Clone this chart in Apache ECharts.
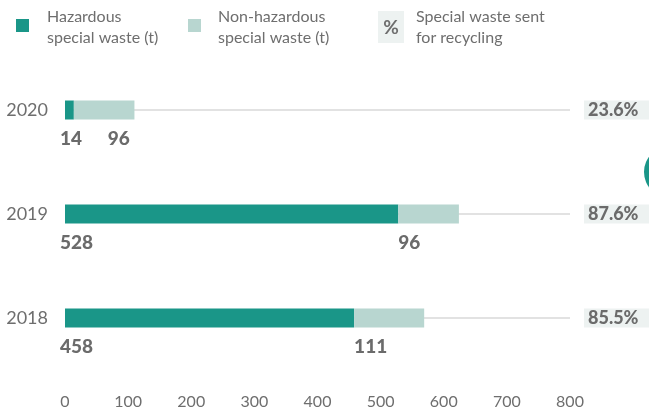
<!DOCTYPE html>
<html>
<head>
<meta charset="utf-8">
<script src="https://cdn.jsdelivr.net/npm/echarts@6/dist/echarts.min.js"></script>
<style>
html,body{margin:0;padding:0;background:#fff;}
#main{width:649px;height:411px;}
</style>
</head>
<body>
<div id="main"></div>
<script>
var years = ['2018', '2019', '2020'];
var hazardous = [458, 528, 14];
var nonHazardous = [111, 96, 96];
var recyclingPct = ['85.5%', '87.6%', '23.6%'];
var xTicks = [0, 100, 200, 300, 400, 500, 600, 700, 800];
var legendNames = ['Hazardous\nspecial waste (t)', 'Non-hazardous\nspecial waste (t)', 'Special waste sent\nfor recycling'];

var TEAL = '#1a9688', LIGHT = '#b8d6d0', GREY = '#6e6e6e', FONT = 'Lato, "Open Sans", sans-serif';

var chart = echarts.init(document.getElementById('main'));

var valLabel = {
  show: true, align: 'left', verticalAlign: 'top',
  fontFamily: FONT, fontWeight: 900, fontSize: 19, color: '#6b6b6b'
};

var option = {
  animation: false,
  grid: { left: 65, right: 79, top: 58, bottom: 41, outerBoundsMode: 'none', containLabel: false },
  xAxis: {
    type: 'value', min: xTicks[0], max: xTicks[xTicks.length - 1], interval: 100,
    axisLine: { show: false }, axisTick: { show: false }, splitLine: { show: false },
    axisLabel: { color: GREY, fontFamily: FONT, fontSize: 16, margin: 24 }
  },
  yAxis: [{
    type: 'category', data: years,
    axisLine: { show: false }, axisTick: { show: false },
    axisLabel: { color: GREY, fontFamily: FONT, fontSize: 18, margin: 17 }
  }, {
    type: 'category', data: recyclingPct, position: 'right',
    axisLine: { show: false }, axisTick: { show: false },
    axisLabel: {
      color: '#6b6b6b', fontFamily: FONT, fontSize: 18, fontWeight: 900,
      margin: 14, align: 'left', backgroundColor: '#edf2f1', padding: [3, 12, 0, 4], lineHeight: 16
    }
  }],
  series: [{
    type: 'line', data: [], z: 0, silent: true,
    markLine: {
      silent: true, symbol: 'none', label: { show: false }, z: 0,
      lineStyle: { color: '#e2e2e2', width: 2, type: 'solid' },
      data: years.map(function (y) { return [{ coord: [xTicks[0], y] }, { coord: [xTicks[xTicks.length - 1], y] }]; })
    }
  }, {
    name: legendNames[0], type: 'bar', stack: 'w', barWidth: 19, z: 10,
    itemStyle: { color: TEAL },
    label: Object.assign({ position: [-5, 29] }, valLabel),
    data: hazardous
  }, {
    name: legendNames[1], type: 'bar', stack: 'w', barWidth: 19, z: 10,
    itemStyle: { color: LIGHT },
    label: Object.assign({ position: [0, 29] }, valLabel),
    data: nonHazardous.map(function (v, i) {
      return years[i] === '2020' ? { value: v, label: { position: [34, 29] } } : v;
    })
  }],
  graphic: [
    { type: 'circle', shape: { cx: 670, cy: 172, r: 26 }, style: { fill: TEAL } },
    { type: 'rect', shape: { x: 16, y: 19, width: 13, height: 13 }, style: { fill: TEAL } },
    { type: 'text', x: 47, y: 6, style: { text: legendNames[0], fill: GREY, font: '16px ' + FONT, lineHeight: 21 } },
    { type: 'rect', shape: { x: 188, y: 19, width: 13, height: 13 }, style: { fill: LIGHT } },
    { type: 'text', x: 218, y: 6, style: { text: legendNames[1], fill: GREY, font: '16px ' + FONT, lineHeight: 21 } },
    { type: 'rect', shape: { x: 378, y: 11, width: 26, height: 32 }, style: { fill: '#edf2f1' } },
    { type: 'text', x: 391, y: 28, style: { text: '%', fill: GREY, font: 'bold 19px ' + FONT, align: 'center', verticalAlign: 'middle' } },
    { type: 'text', x: 416, y: 6, style: { text: legendNames[2], fill: GREY, font: '16px ' + FONT, lineHeight: 21 } }
  ]
};
chart.setOption(option);
</script>
</body>
</html>
